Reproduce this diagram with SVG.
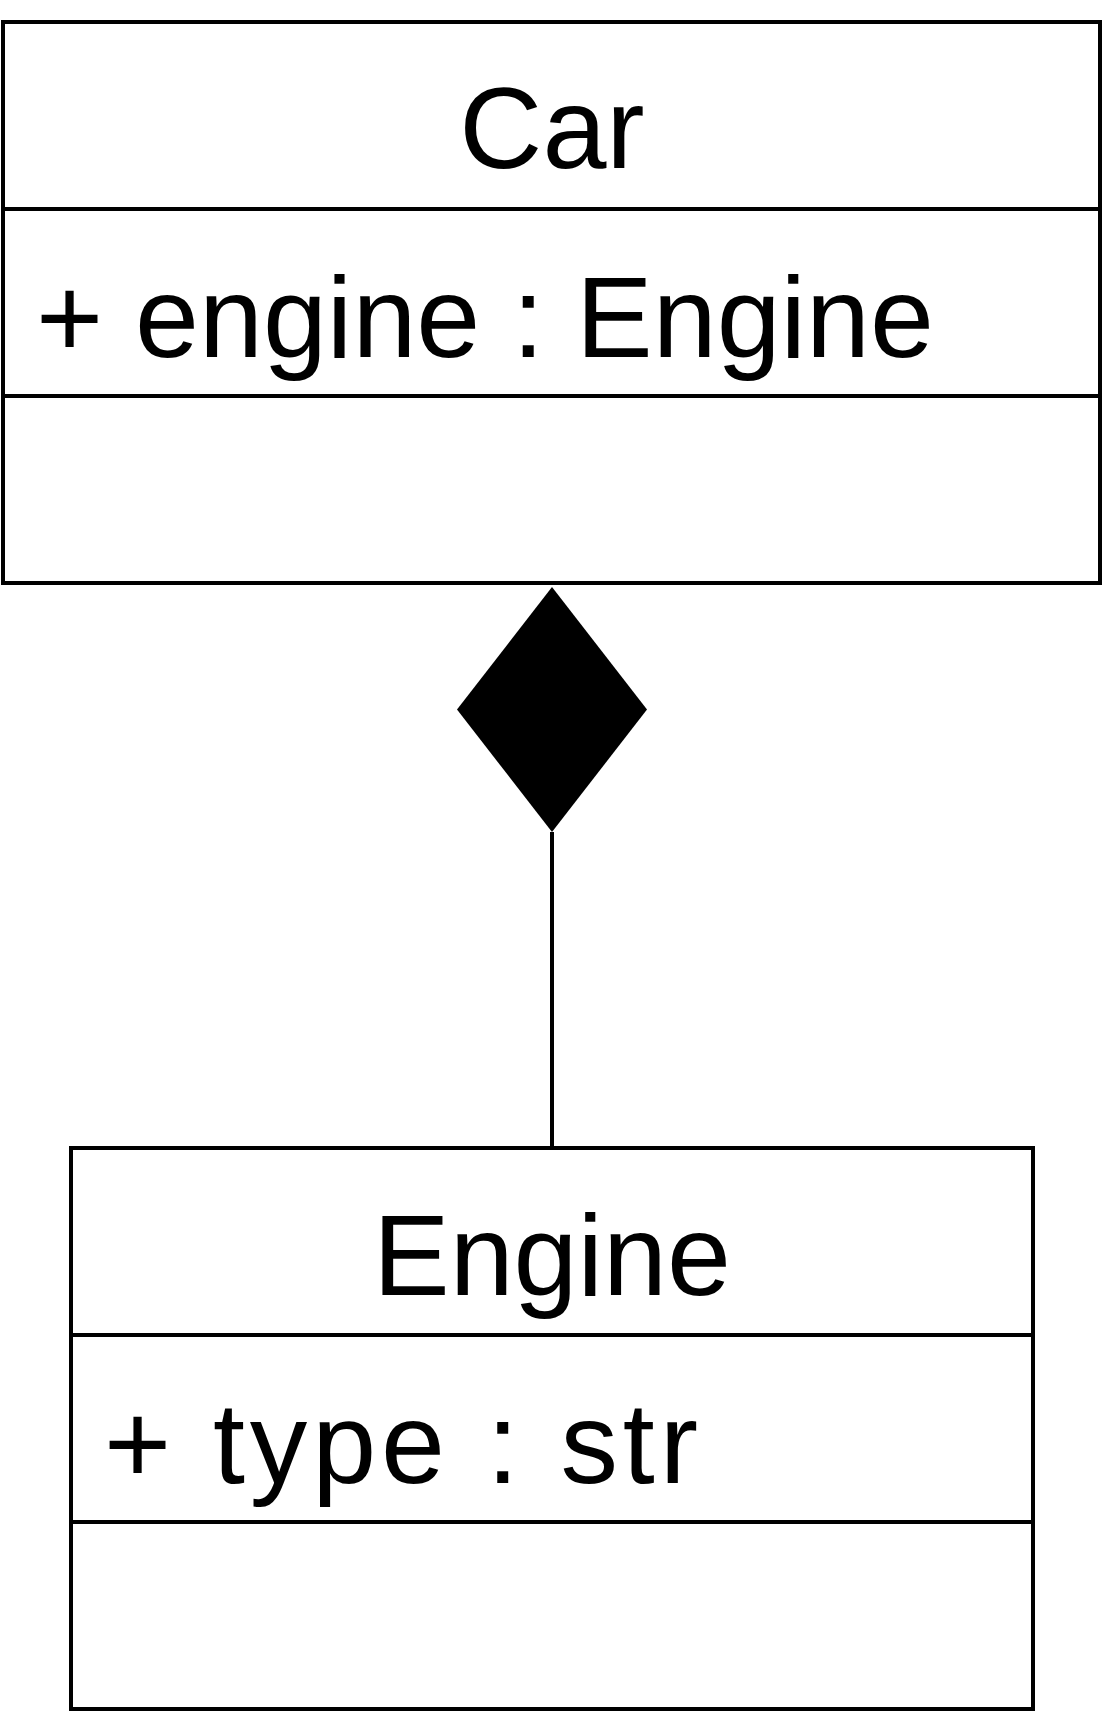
<svg xmlns="http://www.w3.org/2000/svg" width="1106" height="1715" viewBox="0 0 1106 1715">
  <style>
    .box { fill: #ffffff; stroke: #000000; stroke-width: 4; }
    .div { stroke: #000000; stroke-width: 4; }
    .title { font-family: "Liberation Sans", Arial, sans-serif; font-size: 115px; fill: #000000; text-anchor: middle; }
    .attr { font-family: "Liberation Sans", Arial, sans-serif; font-size: 115px; fill: #000000; }
    .conn { stroke: #000000; stroke-width: 4; fill: none; }
  </style>
  <defs>
    <marker id="composition" viewBox="0 0 245 190" refX="0" refY="95" markerWidth="245" markerHeight="190" markerUnits="userSpaceOnUse" orient="auto">
      <path d="M0,95 L122.5,0 L245,95 L122.5,190 Z" fill="#000000"/>
    </marker>
  </defs>
  <rect width="1106" height="1715" fill="#ffffff"/>
  <g id="connectors">
    <path class="conn" d="M552,1148 L552,832" marker-end="url(#composition)"/>
  </g>
  <g id="Car">
    <rect class="box" x="3" y="22" width="1097" height="561"/>
    <line class="div" x1="3" y1="209" x2="1100" y2="209"/>
    <line class="div" x1="3" y1="396" x2="1100" y2="396"/>
    <text class="title" x="552" y="168">Car</text>
    <text class="attr" x="36" y="357" textLength="898" lengthAdjust="spacing">+ engine : Engine</text>
  </g>
  <g id="Engine">
    <rect class="box" x="71" y="1148" width="962" height="561"/>
    <line class="div" x1="71" y1="1335" x2="1033" y2="1335"/>
    <line class="div" x1="71" y1="1522" x2="1033" y2="1522"/>
    <text class="title" x="552" y="1295">Engine</text>
    <text class="attr" x="104" y="1483" textLength="594" lengthAdjust="spacing">+ type : str</text>
  </g>
</svg>
